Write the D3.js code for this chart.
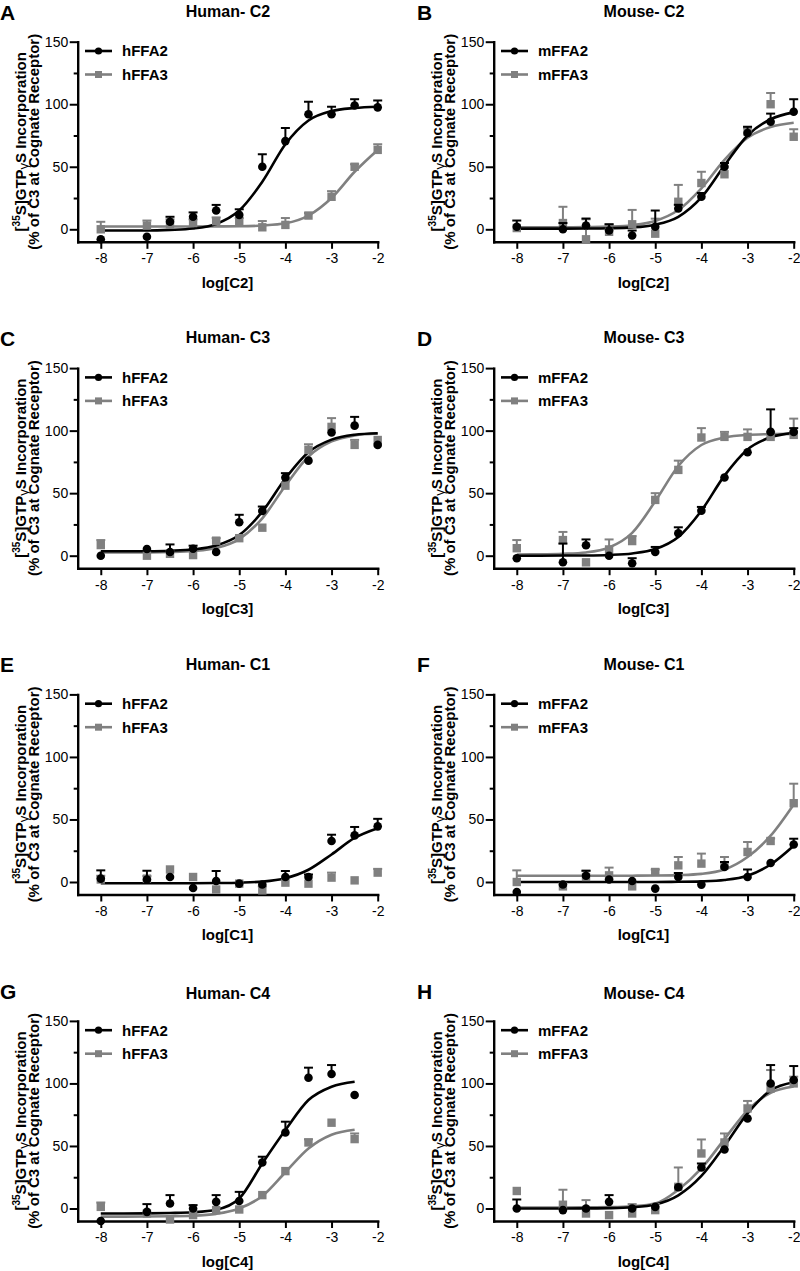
<!DOCTYPE html>
<html>
<head>
<meta charset="utf-8">
<script src="https://cdnjs.cloudflare.com/ajax/libs/d3/7.8.5/d3.min.js"></script>
<style>
  body { margin: 0; background: #fff; }
  svg text { font-family: "Liberation Sans", Arial, Helvetica, sans-serif; }
</style>
</head>
<body>
<div id="fig"></div>
<script>
// log doses of the data points and of the fitted curves
let doses = [-8, -7, -6.5, -6, -5.5, -5, -4.5, -4, -3.5, -3, -2.5, -2];
let fitDoses = [-8, -7.5, -7, -6.5, -6, -5.5, -5, -4.5, -4, -3.5, -3, -2.5, -2];
let xTicks = [-8, -7, -6, -5, -4, -3, -2];
let yTicks = [0, 50, 100, 150];
let yMinorTicks = [25, 75, 125];

let panelLetters = ["A", "B", "C", "D", "E", "F", "G", "H"];
let panelTitles = ["Human- C2", "Mouse- C2", "Human- C3", "Mouse- C3",
                   "Human- C1", "Mouse- C1", "Human- C4", "Mouse- C4"];
let xLabels = ["log[C2]", "log[C2]", "log[C3]", "log[C3]",
               "log[C1]", "log[C1]", "log[C4]", "log[C4]"];
let humanNames = ["hFFA2", "hFFA3"];
let mouseNames = ["mFFA2", "mFFA3"];

// A - Human C2
let A_ffa2     = [-8, -6, 6, 10, 15, 11.5, 50, 70.5, 92, 92, 99, 97.5];
let A_ffa2_sem = [0, 0, 4, 3.5, 4.5, 4.5, 10, 10.5, 10, 6, 5, 5.5];
let A_ffa2_fit = [-1, -1, -1, -0.5, 0.6, 4.3, 15, 38, 68, 87, 94.5, 97, 98];
let A_ffa3     = [0, 3, 4, 5, 6.5, 6, 1.6, 3.5, 11, 26, 50, 63.5];
let A_ffa3_sem = [6, 4, 4, 3, 3, 3, 5, 5.5, 2, 4.5, 2, 4.5];
let A_ffa3_fit = [2.2, 2.2, 2.2, 2.2, 2.2, 2.3, 2.4, 3, 4.8, 11, 25, 46, 63.5];

// B - Mouse C2
let B_ffa2     = [2, 0, 3, -1, -5, 2, 16.6, 26, 50, 77, 86, 94];
let B_ffa2_sem = [5, 5, 5.6, 5, 4, 13, 3, 3, 3, 5, 6.5, 10];
let B_ffa2_fit = [0.5, 0.5, 0.5, 0.6, 0.85, 1.5, 3.7, 10, 25.5, 51, 75, 88, 93.5];
let B_ffa3     = [1, 5, -8, -2, 4, -3.5, 22, 37, 44, 78, 100, 74];
let B_ffa3_sem = [0, 13, 16, 6, 11.5, 12, 13.5, 9, 9, 3, 9, 6];
let B_ffa3_fit = [1.5, 1.5, 1.5, 1.7, 2.1, 3.3, 6.7, 15.4, 32.8, 55.6, 73.2, 81.8, 85.2];

// C - Human C3
let C_ffa2     = [0, 5.3, 3, 5.5, 3, 26.7, 35.8, 62.5, 76, 98.5, 104, 88.6];
let C_ffa2_sem = [0, 0, 6, 2.5, 0, 6, 3.5, 3.5, 0, 0, 7, 0];
let C_ffa2_fit = [3.5, 3.5, 3.6, 4, 5, 8.1, 16.5, 35.2, 61.7, 82.7, 92.8, 96.7, 97.9];
let C_ffa3     = [8.5, 0, 1.5, 0.5, 12, 14, 22.4, 56, 84.6, 103, 88.6, 92.5];
let C_ffa3_sem = [4, 0, 0, 0, 2, 0, 0, 0, 4.5, 7, 4, 0];
let C_ffa3_fit = [2.5, 2.5, 2.6, 2.9, 3.7, 6.1, 13.3, 29.9, 56, 79.3, 91.4, 96.1, 97.7];

// D - Mouse C3
let D_ffa2     = [-2, -5.3, 8.3, 0, -6, 3, 18, 36, 62.5, 82.7, 99, 99];
let D_ffa2_sem = [0, 15, 4.7, 0, 4, 4, 4.7, 3, 0, 0, 18, 3];
let D_ffa2_fit = [0, 0, 0.1, 0.2, 0.6, 1.8, 5.3, 15, 36, 64, 85, 94.7, 98.2];
let D_ffa3     = [6, 12.5, -5.3, 5, 11.7, 44.6, 68.6, 94.5, 95, 95, 95, 96.6];
let D_ffa3_sem = [6.5, 6.5, 0, 8, 4, 5.4, 7.4, 7.5, 4, 6, 4, 13];
let D_ffa3_fit = [1, 1.1, 1.5, 2.6, 6.6, 18.3, 43.5, 71.7, 88.5, 94.5, 96.6, 97.2, 97.4];

// E - Human C1 (no fit for hFFA3)
let E_ffa2     = [2.7, 2, 4, -4.8, 0.8, -1.3, -2, 4, 4, 32.8, 37.3, 44.5];
let E_ffa2_sem = [6.6, 7, 0, 0, 8, 0, 0, 4.8, 2, 5, 6.7, 6];
let E_ffa2_fit = [-1, -1, -1, -1, -1, -0.85, -0.55, 0.3, 3, 9.8, 22, 35.2, 43];
let E_ffa3     = [2, 2.7, 10, 4, -6, -1.3, -6.7, -0.5, -1.3, 3.5, 1.3, 7.5];
let E_ffa3_sem = [3, 2, 0, 0, 0, 0, 3.2, 0, 0, 4, 0, 3];
let E_ffa3_fit = [];

// F - Mouse C1
let F_ffa2     = [-8, -2, 5, 2, 0.8, -5.3, 4, -2.1, 12, 4, 15.2, 30];
let F_ffa2_sem = [0, 0, 4, 0, 0, 0, 3.2, 0, 4, 6, 0, 4.6];
let F_ffa2_fit = [0, 0, 0, 0, 0, 0, 0.05, 0.15, 0.5, 1.6, 5, 14, 29];
let F_ffa3     = [0, -3.5, 4, 5.3, -3.5, 8, 13.3, 14.7, 13.3, 24, 32.8, 63];
let F_ffa3_sem = [9.3, 0, 5, 6.2, 0, 2, 6.7, 8, 6.7, 8, 2, 15.6];
let F_ffa3_fit = [5, 5, 5, 5, 5, 5.05, 5.15, 5.5, 6.5, 10, 20, 37, 62];

// G - Human C4 (stops at -2.5)
let G_ffa2     = [-10, -2.7, 4, 0, 5.3, 6, 36.8, 60.8, 104.6, 107.5, 90.7, null];
let G_ffa2_sem = [0, 6.2, 6.7, 2.7, 5.4, 7.3, 4.6, 8.6, 8, 7.2, 0, null];
let G_ffa2_fit = [-4, -4, -3.9, -3.6, -3, -1, 8, 36, 62.7, 86.7, 97.4, 101.4, null];
let G_ffa3     = [1.3, -4, -8.8, -5.3, -1.3, -0.8, 10.7, 29.9, 52.8, 68.6, 55.5, null];
let G_ffa3_sem = [3.5, 0, 0, 0, 0, 0, 0, 0, 2.5, 0, 4.5, null];
let G_ffa3_fit = [-6.5, -6.5, -6.4, -6.2, -5.8, -4.3, 0, 10, 29, 48, 59, 63, null];

// H - Mouse C4
let H_ffa2     = [0, -1.3, 0, 5.3, 0, 1.3, 17, 32.8, 47.2, 72, 100, 102.7];
let H_ffa2_sem = [7.2, 0, 0, 5.4, 0, 0, 0, 3.2, 0, 0, 14.7, 11.2];
let H_ffa2_fit = [0, 0, 0, 0.1, 0.3, 1, 3.2, 10.5, 26, 50, 76, 94.5, 101];
let H_ffa3     = [14, 3, -4, -5.3, -4, -1.3, 17.3, 44, 52.8, 80, 96, 100];
let H_ffa3_sem = [0, 12, 10.7, 0, 7.5, 5, 15.5, 11.2, 7.2, 6, 14.7, 5.4];
let H_ffa3_fit = [0.8, 0.8, 0.8, 0.9, 1.1, 1.8, 4, 15, 32, 55.5, 78.5, 92.5, 97.5];

let ffa2Means = [A_ffa2, B_ffa2, C_ffa2, D_ffa2, E_ffa2, F_ffa2, G_ffa2, H_ffa2];
let ffa2Sems  = [A_ffa2_sem, B_ffa2_sem, C_ffa2_sem, D_ffa2_sem, E_ffa2_sem, F_ffa2_sem, G_ffa2_sem, H_ffa2_sem];
let ffa2Fits  = [A_ffa2_fit, B_ffa2_fit, C_ffa2_fit, D_ffa2_fit, E_ffa2_fit, F_ffa2_fit, G_ffa2_fit, H_ffa2_fit];
let ffa3Means = [A_ffa3, B_ffa3, C_ffa3, D_ffa3, E_ffa3, F_ffa3, G_ffa3, H_ffa3];
let ffa3Sems  = [A_ffa3_sem, B_ffa3_sem, C_ffa3_sem, D_ffa3_sem, E_ffa3_sem, F_ffa3_sem, G_ffa3_sem, H_ffa3_sem];
let ffa3Fits  = [A_ffa3_fit, B_ffa3_fit, C_ffa3_fit, D_ffa3_fit, E_ffa3_fit, F_ffa3_fit, G_ffa3_fit, H_ffa3_fit];

// LAYOUT
let colX = [0, 416];
let rowY = [0, 326.4, 652.7, 979.2];
let titleBase = [16.8, 16.8, 17.4, 19.5];
let BLACK = "#000000";
let GREY = "#808080";

let svg = d3.select("#fig")
            .append("svg")
            .attr("width", 800)
            .attr("height", 1271)
            .style("display", "block");

let x = d3.scaleLinear().domain([-8.5, -2]).range([77.7, 377.7]);
let y = d3.scaleLinear().domain([-10, 150]).range([241.8, 41.7]);

let line = d3.line()
             .defined(d => d[1] != null)
             .x(d => x(d[0]))
             .y(d => y(d[1]))
             .curve(d3.curveMonotoneX);

function draw_panel(i) {
    let col = i % 2;
    let row = Math.floor(i / 2);
    let names = col === 0 ? humanNames : mouseNames;

    let g = svg.append("g")
               .attr("transform", "translate(" + colX[col] + "," + rowY[row] + ")");

    // LETTER + TITLE
    g.append("text")
     .attr("x", col === 0 ? 0 : 1)
     .attr("y", Math.max(titleBase[row] + 0.5, 19.5))
     .attr("font-size", "21px")
     .attr("font-weight", "bold")
     .text(panelLetters[i]);

    g.append("text")
     .attr("x", 228)
     .attr("y", titleBase[row])
     .attr("text-anchor", "middle")
     .attr("font-size", "16px")
     .attr("font-weight", "bold")
     .text(panelTitles[i]);

    // AXES
    let xAxis = g.append("g")
                 .attr("transform", "translate(0," + y(-10) + ")")
                 .call(d3.axisBottom(x)
                         .tickValues(xTicks)
                         .tickSize(7)
                         .tickSizeOuter(0)
                         .tickPadding(4.5)
                         .tickFormat(d => String(d)));

    let yAxis = g.append("g")
                 .attr("transform", "translate(" + x(-8.5) + ",0)")
                 .call(d3.axisLeft(y)
                         .tickValues(yTicks)
                         .tickSize(8)
                         .tickSizeOuter(0)
                         .tickPadding(1.5));

    let yMinor = g.append("g")
                  .attr("transform", "translate(" + x(-8.5) + ",0)")
                  .call(d3.axisLeft(y)
                          .tickValues(yMinorTicks)
                          .tickSize(4)
                          .tickFormat(""));
    yMinor.select(".domain").remove();

    [xAxis, yAxis, yMinor].forEach(a => {
        a.select(".domain").attr("stroke-width", 2.4).attr("stroke-linecap", "square");
        a.selectAll(".tick line").attr("stroke-width", 2);
        a.selectAll(".tick text")
         .attr("font-size", "14px")
         .attr("fill", BLACK)
         .style("font-family", '"Liberation Sans", Arial, sans-serif');
    });

    // AXIS LABELS
    g.append("text")
     .attr("x", 227.5)
     .attr("y", 287.5)
     .attr("text-anchor", "middle")
     .attr("font-size", "15px")
     .attr("font-weight", "bold")
     .text(xLabels[i]);

    let yMid = (y(-10) + y(150)) / 2;
    let yl1 = g.append("text")
               .attr("transform", "translate(26," + yMid + ") rotate(-90)")
               .attr("text-anchor", "middle")
               .attr("font-size", "15px")
               .attr("font-weight", "bold");
    yl1.append("tspan").text("[");
    yl1.append("tspan").attr("font-size", "10px").attr("dy", -6).text("35");
    yl1.append("tspan").attr("dy", 6).text("S]GTP");
    yl1.append("tspan").attr("font-weight", "normal").attr("font-size", "13px").attr("dy", 2).text("\u03b3");
    yl1.append("tspan").attr("dy", -2).text("S Incorporation");

    g.append("text")
     .attr("transform", "translate(39," + yMid + ") rotate(-90)")
     .attr("text-anchor", "middle")
     .attr("font-size", "15px")
     .attr("font-weight", "bold")
     .text("(% of C3 at Cognate Receptor)");

    // FITTED CURVES
    let fits = [[ffa3Fits[i], GREY], [ffa2Fits[i], BLACK]];
    fits.forEach(f => {
        if (f[0].length === 0) return;
        let pts = fitDoses.map((d, k) => [d, f[0][k]]);
        g.append("path")
         .datum(pts)
         .attr("fill", "none")
         .attr("stroke", f[1])
         .attr("stroke-width", 2.6)
         .attr("d", line);
    });

    // POINTS + ERROR BARS (upper SEM only)
    let sets = [
        {means: ffa3Means[i], sems: ffa3Sems[i], color: GREY, shape: "square"},
        {means: ffa2Means[i], sems: ffa2Sems[i], color: BLACK, shape: "circle"}
    ];
    sets.forEach(s => {
        let pts = doses.map((d, k) => ({x: d, m: s.means[k], e: s.sems[k]}))
                       .filter(p => p.m != null);
        let sg = g.append("g");
        let bars = pts.filter(p => p.e > 0);
        sg.selectAll("line.err")
          .data(bars)
          .enter().append("line")
          .attr("x1", p => x(p.x)).attr("x2", p => x(p.x))
          .attr("y1", p => y(p.m)).attr("y2", p => y(p.m + p.e))
          .attr("stroke", s.color).attr("stroke-width", 2);
        sg.selectAll("line.cap")
          .data(bars)
          .enter().append("line")
          .attr("x1", p => x(p.x) - 4.5).attr("x2", p => x(p.x) + 4.5)
          .attr("y1", p => y(p.m + p.e)).attr("y2", p => y(p.m + p.e))
          .attr("stroke", s.color).attr("stroke-width", 2);
        if (s.shape === "circle") {
            sg.selectAll("circle")
              .data(pts)
              .enter().append("circle")
              .attr("cx", p => x(p.x))
              .attr("cy", p => y(p.m))
              .attr("r", 4.3)
              .attr("fill", s.color);
        } else {
            sg.selectAll("rect")
              .data(pts)
              .enter().append("rect")
              .attr("x", p => x(p.x) - 4.2)
              .attr("y", p => y(p.m) - 4.2)
              .attr("width", 8.4)
              .attr("height", 8.4)
              .attr("fill", s.color);
        }
    });

    // LEGEND
    let legY = [51, 74.5];
    [BLACK, GREY].forEach((c, k) => {
        let lg = g.append("g").attr("transform", "translate(0," + legY[k] + ")");
        lg.append("line")
          .attr("x1", 85).attr("x2", 112)
          .attr("stroke", c).attr("stroke-width", 2.6);
        if (k === 0) {
            lg.append("circle").attr("cx", 98.5).attr("r", 3.6).attr("fill", c);
        } else {
            lg.append("rect").attr("x", 95).attr("y", -3.5)
              .attr("width", 7).attr("height", 7).attr("fill", c);
        }
        lg.append("text")
          .attr("x", 122).attr("y", 5.3)
          .attr("font-size", "15px")
          .attr("font-weight", "bold")
          .text(names[k]);
    });
}

d3.range(8).forEach(draw_panel);
</script>
</body>
</html>
